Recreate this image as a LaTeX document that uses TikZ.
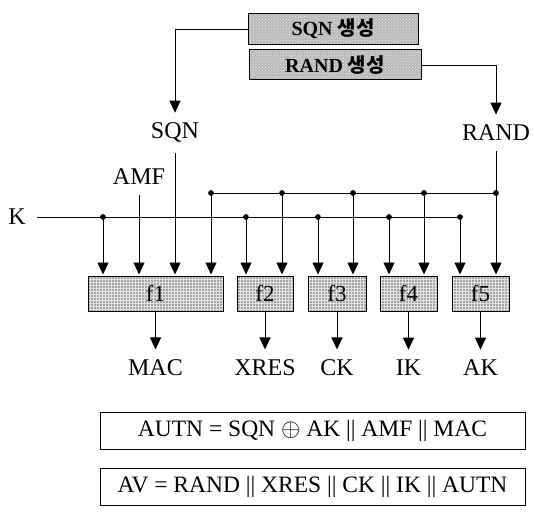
\documentclass[tikz,border=0pt]{standalone}
\usepackage{fontspec}
\setmainfont{Liberation Serif}
\newfontfamily\krfont{Noto Sans CJK KR}
\usetikzlibrary{arrows.meta,calc,patterns}
\begin{document}
\begin{tikzpicture}[x=1pt,y=-1pt,
  line width=0.9pt,
  arr/.style={-{Triangle[width=11pt,length=12pt]}},
  lbl/.style={font=\fontsize{24}{28}\selectfont, inner xsep=2pt, inner ysep=10pt},
  fbox/.style={draw, line width=1pt, preaction={fill=gray!72}, pattern=grid, pattern color=gray!22,
    minimum height=35pt, font=\fontsize{23}{26}\selectfont, inner sep=0pt},
  genbox/.style={draw, line width=1pt, preaction={fill=gray!55}, pattern=crosshatch dots, pattern color=gray!15,
    font=\fontsize{20}{24}\selectfont\bfseries, inner sep=0pt},
  eqbox/.style={draw, minimum width=425pt, minimum height=37pt, font=\fontsize{23.5}{27}\selectfont, inner sep=0pt}]
\useasboundingbox (0,0) rectangle (534,513);

% generator boxes
\node[genbox, minimum width=170pt, minimum height=31pt] (sqngen) at (333,29) {SQN {\krfont 생성}};
\node[genbox, minimum width=172pt, minimum height=30pt] (randgen) at (335,65) {RAND {\krfont 생성}};

% input labels
\node[lbl] (sqn) at (175,133) {SQN};
\node[lbl] (rand) at (496,133) {RAND};
\node[lbl] (amf) at (139,177) {AMF};
\node[lbl] (k) at (17,217) {K};

% function boxes
\node[fbox, minimum width=135pt] (f1) at (155.5,293.5) {f1};
\node[fbox, minimum width=56pt] (f2) at (265,293.5) {f2};
\node[fbox, minimum width=58pt] (f3) at (337,293.5) {f3};
\node[fbox, minimum width=57pt] (f4) at (408.5,293.5) {f4};
\node[fbox, minimum width=57pt] (f5) at (480.5,293.5) {f5};

% output labels
\node[lbl] (mac) at (155.5,368) {MAC};
\node[lbl] (xres) at (265,368) {XRES};
\node[lbl] (ck) at (337,368) {CK};
\node[lbl] (ik) at (408.5,368) {IK};
\node[lbl] (ak) at (480.5,368) {AK};

% bus junctions
\coordinate (k1) at (103,217);
\coordinate (k2) at (246,217);
\coordinate (k3) at (318,217);
\coordinate (k4) at (389,217);
\coordinate (k5) at (460,217);
\coordinate (r1) at (211,193);
\coordinate (r2) at (282,193);
\coordinate (r3) at (353,193);
\coordinate (r4) at (424,193);
\coordinate (r5) at (496,193);

% buses
\draw[shorten <=9pt] (k.east) -- (k5);
\draw (r1) -- (r5);

% generator connectors
\draw[arr] (sqngen.west) -| (sqn.north);
\draw[arr] (randgen.east) -| (rand.north);

% inputs into functions
\draw[arr, shorten >=1pt] (sqn.south) -- (sqn.south |- f1.north);
\draw[arr, shorten >=1pt] (rand.south) -- (rand.south |- f5.north);
\draw[arr, shorten >=1pt] (amf.south) -- (amf.south |- f1.north);
\foreach \p/\b in {k1/f1,k2/f2,k3/f3,k4/f4,k5/f5,r1/f1,r2/f2,r3/f3,r4/f4}
  \draw[arr, shorten >=1pt] (\p) -- (\p |- \b.north);
\foreach \p in {k1,k2,k3,k4,k5,r1,r2,r3,r4,r5}
  \fill (\p) circle (2.9pt);

% outputs
\draw[arr] (f1.south) -- (mac.north);
\draw[arr] (f2.south) -- (xres.north);
\draw[arr] (f3.south) -- (ck.north);
\draw[arr] (f4.south) -- (ik.north);
\draw[arr] (f5.south) -- (ak.north);

% equations
\node[eqbox] (autn) at (312.5,431) {AUTN = SQN $\oplus$ AK || AMF || MAC};
\node[eqbox] (av) at (312.5,487) {AV = RAND || XRES || CK || IK || AUTN};
\end{tikzpicture}
\end{document}
